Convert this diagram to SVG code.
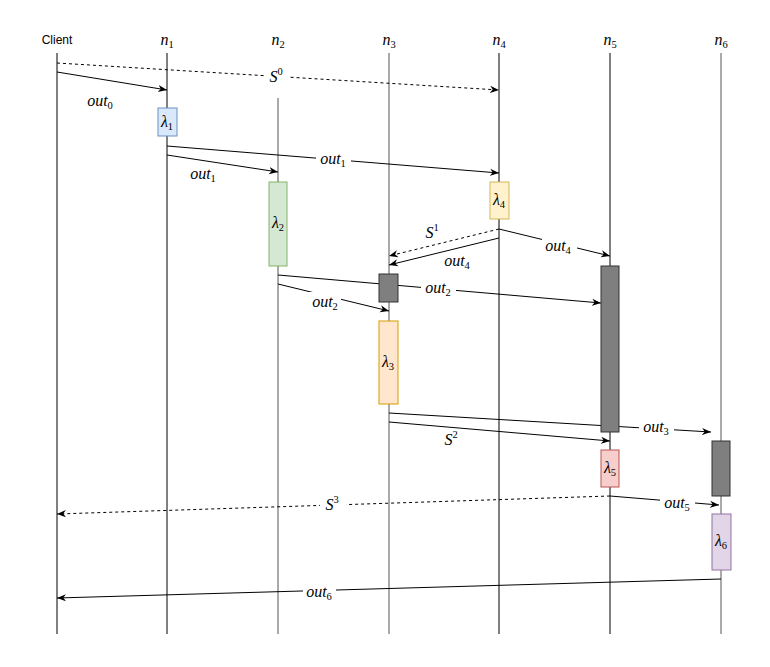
<svg xmlns="http://www.w3.org/2000/svg" width="770" height="667" viewBox="0 0 770 667">
<style>
.ll{stroke:#000;stroke-width:1;fill:none}
.llg{stroke:#555;stroke-width:1;fill:none}
.c{stroke:#000;stroke-width:1;fill:none}
.d{stroke:#000;stroke-width:1;fill:none;stroke-dasharray:3,3}
.m{font-family:"Liberation Serif",serif;font-style:italic;font-size:16px;fill:#000;text-anchor:middle}
.s{font-size:10.5px;font-style:normal}
.h{font-family:"Liberation Sans",Arial,sans-serif;font-size:12px;fill:#000;text-anchor:middle}
.bg{fill:#fff;stroke:none}
.dark{fill:#7f7f7f;stroke:#333;stroke-width:1}
</style>
<defs>
<marker id="a" viewBox="0 0 10 10" refX="10" refY="5" markerWidth="9" markerHeight="9" markerUnits="userSpaceOnUse" orient="auto"><path d="M0,1 L10,5 L0,9 L3,5 z" fill="#000"/></marker>
</defs>
<rect width="770" height="667" fill="#fff"/>

<g id="lifelines">
<g id="client"><text class="h" x="57" y="44">Client</text><line class="ll" x1="57" y1="53" x2="57" y2="634"/></g>
<g id="n1"><text class="m" x="167" y="45">n<tspan class="s" dy="3">1</tspan></text><line class="ll" x1="167" y1="53" x2="167" y2="634"/></g>
<g id="n2"><text class="m" x="278" y="45">n<tspan class="s" dy="3">2</tspan></text><line class="llg" x1="278" y1="98" x2="278" y2="634"/></g>
<g id="n3"><text class="m" x="389" y="45">n<tspan class="s" dy="3">3</tspan></text><line class="llg" x1="389" y1="53" x2="389" y2="634"/></g>
<g id="n4"><text class="m" x="499" y="45">n<tspan class="s" dy="3">4</tspan></text><line class="ll" x1="499" y1="53" x2="499" y2="634"/></g>
<g id="n5"><text class="m" x="610" y="45">n<tspan class="s" dy="3">5</tspan></text><line class="ll" x1="610" y1="53" x2="610" y2="634"/></g>
<g id="n6"><text class="m" x="721" y="45">n<tspan class="s" dy="3">6</tspan></text><line class="llg" x1="721" y1="53" x2="721" y2="634"/></g>
</g>

<g id="connectors">
<line class="d" x1="57" y1="63" x2="499" y2="90" marker-end="url(#a)"/>
<rect class="bg" x="265" y="66" width="25" height="20"/>
<text class="m" x="276" y="82">S<tspan class="s" dy="-7">0</tspan></text>
<line class="c" x1="57" y1="72" x2="167" y2="90" marker-end="url(#a)"/>
<text class="m" x="100" y="106">out<tspan class="s" dy="3">0</tspan></text>
<line class="c" x1="167" y1="146" x2="499" y2="173" marker-end="url(#a)"/>
<rect class="bg" x="316" y="151" width="35" height="18"/>
<text class="m" x="333" y="164">out<tspan class="s" dy="3">1</tspan></text>
<line class="c" x1="167" y1="155" x2="278" y2="172" marker-end="url(#a)"/>
<text class="m" x="203" y="179">out<tspan class="s" dy="3">1</tspan></text>
<line class="d" x1="499" y1="229" x2="389" y2="256" marker-end="url(#a)"/>
<text class="m" x="432" y="238">S<tspan class="s" dy="-7">1</tspan></text>
<line class="c" x1="499" y1="238" x2="389" y2="265" marker-end="url(#a)"/>
<text class="m" x="457" y="266">out<tspan class="s" dy="3">4</tspan></text>
<line class="c" x1="499" y1="229" x2="610" y2="256" marker-end="url(#a)"/>
<rect class="bg" x="542" y="238" width="35" height="18"/>
<text class="m" x="558" y="251">out<tspan class="s" dy="3">4</tspan></text>
<line class="c" x1="278" y1="275" x2="601" y2="303" marker-end="url(#a)"/>
<rect class="bg" x="421" y="280" width="35" height="18"/>
<text class="m" x="438" y="293">out<tspan class="s" dy="3">2</tspan></text>
<line class="c" x1="278" y1="284" x2="389" y2="311" marker-end="url(#a)"/>
<rect class="bg" x="309" y="292" width="32" height="20"/>
<text class="m" x="325" y="307">out<tspan class="s" dy="3">2</tspan></text>
<line class="c" x1="389" y1="413" x2="711" y2="432" marker-end="url(#a)"/>
<rect class="bg" x="639" y="419" width="35" height="18"/>
<text class="m" x="656" y="432">out<tspan class="s" dy="3">3</tspan></text>
<line class="c" x1="389" y1="422" x2="610" y2="441" marker-end="url(#a)"/>
<text class="m" x="451" y="445">S<tspan class="s" dy="-7">2</tspan></text>
<line class="d" x1="610" y1="496" x2="57" y2="514" marker-end="url(#a)"/>
<rect class="bg" x="320" y="495" width="26" height="18"/>
<text class="m" x="332" y="510">S<tspan class="s" dy="-7">3</tspan></text>
<line class="c" x1="610" y1="496" x2="719" y2="505" marker-end="url(#a)"/>
<rect class="bg" x="660" y="495" width="35" height="18"/>
<text class="m" x="677" y="508">out<tspan class="s" dy="3">5</tspan></text>
<line class="c" x1="721" y1="579" x2="57" y2="598" marker-end="url(#a)"/>
<rect class="bg" x="303" y="584" width="33" height="18"/>
<text class="m" x="319" y="597">out<tspan class="s" dy="3">6</tspan></text>
</g>

<g id="lambda1"><rect x="158" y="108" width="19" height="28" fill="#dae8fc" stroke="#6c8ebf"/><text class="m" x="167" y="127">λ<tspan class="s" dy="3">1</tspan></text></g>
<g id="lambda2"><rect x="269" y="182" width="18" height="84" fill="#d5e8d4" stroke="#82b366"/><text class="m" x="278" y="228">λ<tspan class="s" dy="3">2</tspan></text></g>
<g id="lambda4"><rect x="490" y="182" width="19" height="37" fill="#fff2cc" stroke="#d6b656"/><text class="m" x="499" y="205">λ<tspan class="s" dy="3">4</tspan></text></g>
<g id="wait3"><rect class="dark" x="379" y="274" width="19" height="28"/></g>
<g id="wait5"><rect class="dark" x="601" y="266" width="18" height="166"/></g>
<g id="lambda3"><rect x="379" y="321" width="19" height="83" fill="#ffe6cc" stroke="#d79b00"/><text class="m" x="388" y="367">λ<tspan class="s" dy="3">3</tspan></text></g>
<g id="lambda5"><rect x="601" y="450" width="18" height="37" fill="#f8cecc" stroke="#b85450"/><text class="m" x="610" y="473">λ<tspan class="s" dy="3">5</tspan></text></g>
<g id="wait6"><rect class="dark" x="712" y="441" width="18" height="55"/></g>
<g id="lambda6"><rect x="712" y="514" width="19" height="56" fill="#e1d5e7" stroke="#9673a6"/><text class="m" x="721" y="546">λ<tspan class="s" dy="3">6</tspan></text></g>
</svg>
